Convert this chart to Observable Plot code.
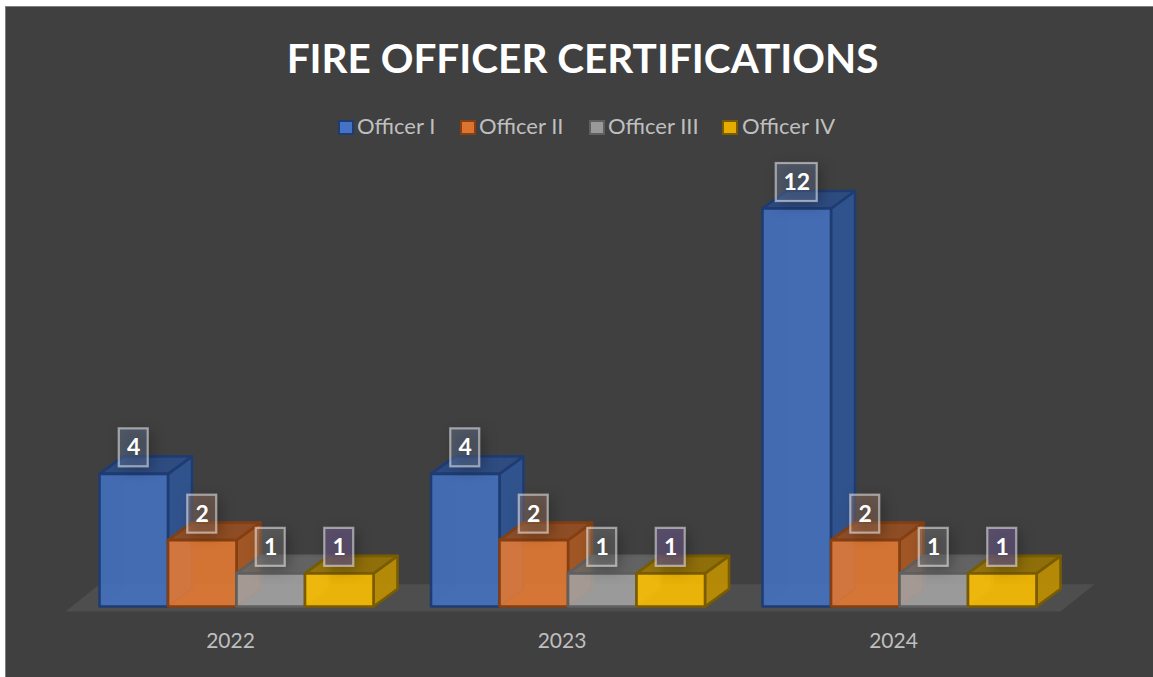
<!DOCTYPE html>
<html>
<head>
<meta charset="utf-8">
<script src="https://cdn.jsdelivr.net/npm/d3@7"></script>
<script src="https://cdn.jsdelivr.net/npm/@observablehq/plot@0.6"></script>
<style>
html,body{margin:0;padding:0;background:#fff;overflow:hidden}
#chart{position:absolute;left:5px;top:6px;width:1148px;height:671px;background:#404040;border-top:1.5px solid #7f7f7f;border-left:1.5px solid #7f7f7f;box-sizing:border-box;font-family:Lato,sans-serif}
#title{position:absolute;left:0;width:1153px;top:24px;text-align:center;color:#fff;font-weight:700;font-size:40.5px;line-height:54px;white-space:nowrap}
#legend{position:absolute;top:105px;left:332px;height:28px;color:#bfbfbf;font-size:22px;line-height:28px}
#legend span{position:absolute;white-space:nowrap}
#legend i{position:absolute;top:7.5px;width:11.5px;height:11.5px;border:2px solid}
#plot{position:absolute;left:-1px;top:143px}
svg{overflow:visible}
</style>
</head>
<body>
<div id="chart">
  <div id="title">FIRE OFFICER CERTIFICATIONS</div>
  <div id="legend"></div>
  <div id="plot"></div>
</div>
<script>
const years = ["2022", "2023", "2024"];
const seriesNames = ["Officer I", "Officer II", "Officer III", "Officer IV"];
const officerI = [4, 4, 12];
const officerII = [2, 2, 2];
const officerIII = [1, 1, 1];
const officerIV = [1, 1, 1];
const allValues = [officerI, officerII, officerIII, officerIV];

const palette = [
  {front:"rgba(68,114,196,.86)", side:"rgba(47,85,151,.88)", top:"rgba(43,76,134,.9)", edge:"#1f3c72", legend:"#4472c4", box:"rgba(110,130,165,.38)"},
  {front:"rgba(237,125,49,.85)", side:"rgba(174,90,33,.88)", top:"rgba(150,78,32,.9)", edge:"#843f12", legend:"#dc7430", box:"rgba(170,130,105,.38)"},
  {front:"rgba(165,165,165,.86)", side:"rgba(120,120,120,.85)", top:"rgba(105,105,105,.85)", edge:"#5f5f5f", legend:"#999", box:"rgba(150,150,150,.32)"},
  {front:"rgba(255,192,0,.88)", side:"rgba(191,144,0,.9)", top:"rgba(150,115,5,.92)", edge:"#7a5c00", legend:"#e6ac00", box:"rgba(100,85,125,.7)"}
];

// Chart geometry expressed in data units (x: one unit per year group, y: one unit per certification)
const barW = 68.5 / 331.5, depthX = 24 / 331.5, depthY = 17.5 / 33.17;
const boxH = 19 / 33.17, labelRise = 26 / 33.17;
const boxHalfWidth = d => (String(d.v).length > 1 ? 20.5 : 14.5) / 331.5;

const legendX = [0, 122, 251, 384];
const legendTextX = [19, 141, 270, 404];
const legend = d3.select("#legend");
seriesNames.forEach((n, s) => {
  legend.append("i").style("left", legendX[s] + "px")
    .style("background", palette[s].legend).style("border-color", palette[s].edge);
  legend.append("span").style("left", legendTextX[s] + "px").text(n);
});

const bars = [];
years.forEach((yr, g) => seriesNames.forEach((n, s) => {
  const x0 = g + (s - 2) * barW;
  bars.push({g, s, x0, x1: x0 + barW, v: allValues[s][g], cx: x0 + barW / 2});
}));

const faces = [];
function face(id, kind, s, pts) {
  const c = palette[s];
  pts.forEach(([x, y]) => faces.push({id, x, y,
    fill: kind === "back" ? "rgba(255,255,255,.04)" : c[kind],
    stroke: kind === "back" ? "rgba(0,0,0,0)" : c.edge}));
}
bars.forEach((b, i) => {
  const {x0, x1, v, s} = b;
  const dx = depthX, dy = depthY;
  face(i + "-bottom", "back", s, [[x0, 0], [x1, 0], [x1 + dx, dy], [x0 + dx, dy]]);
  face(i + "-back", "back", s, [[x0 + dx, dy], [x1 + dx, dy], [x1 + dx, v + dy], [x0 + dx, v + dy]]);
  face(i + "-side", "side", s, [[x1, 0], [x1 + dx, dy], [x1 + dx, v + dy], [x1, v]]);
  face(i + "-top", "top", s, [[x0, v], [x1, v], [x1 + dx, v + dy], [x0 + dx, v + dy]]);
  face(i + "-front", "front", s, [[x0, 0], [x1, 0], [x1, v], [x0, v]]);
});

const floor = [
  {x: -171 / 331.5, y: -0.15}, {x: 824 / 331.5, y: -0.15},
  {x: 858 / 331.5, y: 0.67}, {x: -137 / 331.5, y: 0.67}
];

const svg = Plot.plot({
  width: 1147, height: 527,
  marginLeft: 231, marginRight: 253, marginTop: 58, marginBottom: 71,
  x: {type: "linear", domain: [0, 2], axis: null},
  y: {type: "linear", domain: [0, 12], axis: null},
  color: {type: "identity"},
  style: {background: "transparent", fontFamily: "Lato, sans-serif"},
  marks: [
    Plot.line(floor, {x: "x", y: "y", fill: "#4e4e4e", stroke: "none", curve: "linear-closed"}),
    Plot.line(faces, {x: "x", y: "y", z: "id", fill: "fill", stroke: "stroke", strokeWidth: 2.6, strokeLinejoin: "round", curve: "linear-closed"}),
    Plot.rect(bars, {
      x1: d => d.cx - boxHalfWidth(d) + 0.012, x2: d => d.cx + boxHalfWidth(d) + 0.012,
      y1: d => d.v + labelRise - boxH - 0.1, y2: d => d.v + labelRise + boxH - 0.1,
      fill: "rgba(0,0,0,.28)", imageFilter: "blur(7px)"
    }),
    Plot.rect(bars, {
      x1: d => d.cx - boxHalfWidth(d), x2: d => d.cx + boxHalfWidth(d),
      y1: d => d.v + labelRise - boxH, y2: d => d.v + labelRise + boxH,
      fill: d => palette[d.s].box, stroke: "rgba(255,255,255,.5)", strokeWidth: 2.2
    }),
    Plot.text(bars, {
      x: "cx", y: d => d.v + labelRise, text: d => String(d.v),
      fill: "#fff", fontSize: 23, fontWeight: 700, textAnchor: "middle"
    }),
    Plot.axisX({
      ticks: [0, 1, 2], tickFormat: i => years[i], tickSize: 0, tickPadding: 27,
      dx: -6, fontSize: 21, color: "#bfbfbf", fill: "#bfbfbf", label: null
    })
  ]
});
document.getElementById("plot").append(svg);
</script>
</body>
</html>
